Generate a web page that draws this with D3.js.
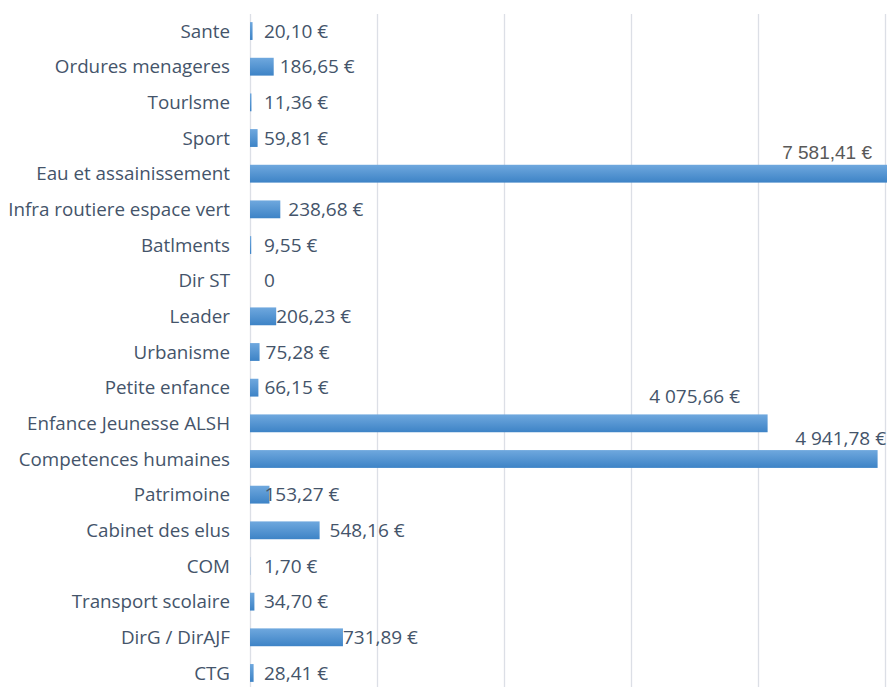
<!DOCTYPE html>
<html>
<head>
<meta charset="utf-8">
<script src="https://cdn.jsdelivr.net/npm/d3@7"></script>
<style>
  body { margin: 0; background: #fff; }
  text { font-family: "Open Sans", sans-serif; }
</style>
</head>
<body>
<div id="chart"></div>
<script>
// categories top -> bottom, as in the picture
var categories = ["Sante", "Ordures menageres", "Tourlsme", "Sport", "Eau et assainissement",
  "Infra routiere espace vert", "Batlments", "Dir ST", "Leader", "Urbanisme", "Petite enfance",
  "Enfance Jeunesse ALSH", "Competences humaines", "Patrimoine", "Cabinet des elus", "COM",
  "Transport scolaire", "DirG / DirAJF", "CTG"];
var values = [20.10, 186.65, 11.36, 59.81, 7581.41, 238.68, 9.55, 0, 206.23, 75.28, 66.15,
  4075.66, 4941.78, 153.27, 548.16, 1.70, 34.70, 731.89, 28.41];
var gridTicks = [0, 1000, 2000, 3000, 4000, 5000];

var w = 887, h = 687;
var svg = d3.select("#chart").append("svg")
  .attr("width", w)
  .attr("height", h);

var defs = svg.append("defs");
var grad = defs.append("linearGradient")
  .attr("id", "barfill")
  .attr("x1", 0).attr("y1", 0).attr("x2", 0).attr("y2", 1);
grad.append("stop").attr("offset", "0%").attr("stop-color", "#6fa8de");
grad.append("stop").attr("offset", "100%").attr("stop-color", "#3d83c6");

var x = d3.scaleLinear().domain([0, 5000]).range([250, 885]);
var y = d3.scaleBand()
  .domain(categories)
  .range([13.2, 690.8])
  .paddingInner(0.5)
  .paddingOuter(0.25);

// vertical gridlines
svg.append("g")
  .attr("transform", "translate(0," + h + ")")
  .call(d3.axisBottom(x).tickValues(gridTicks).tickSize(-(h - 14)).tickFormat(""))
  .call(function(g) {
    g.select(".domain").remove();
    g.selectAll(".tick line").attr("stroke", "#dcdfe6").attr("stroke-width", 1.3);
  });

// category labels
svg.append("g")
  .selectAll("text")
  .data(categories)
  .enter()
  .append("text")
  .attr("x", 230)
  .attr("y", function(d) { return y(d) + y.bandwidth() / 2; })
  .attr("dy", "0.35em")
  .attr("text-anchor", "end")
  .attr("font-size", 18.8)
  .attr("fill", "#44546a")
  .text(function(d) { return d; });

var rows = categories.map(function(c, i) { return { cat: c, v: values[i] }; });

// bars
svg.append("g")
  .selectAll("rect")
  .data(rows)
  .enter()
  .append("rect")
  .attr("x", x(0))
  .attr("y", function(d) { return y(d.cat); })
  .attr("width", function(d) { return x(d.v) - x(0); })
  .attr("height", y.bandwidth())
  .attr("fill", "url(#barfill)");

var fr = d3.formatLocale({ decimal: ",", thousands: "\u00a0", grouping: [3], currency: ["", "\u00a0€"] });
var money = fr.format("$,.2f");

// labels for short bars sit right of the bar, long ones sit above it (moved by hand in the original)
var nudge = { "Ordures menageres": 0, "Infra routiere espace vert": 2, "Leader": -6,
  "Patrimoine": -11, "Cabinet des elus": 4, "DirG / DirAJF": -6 };
var above = {
  "Eau et assainissement": { x: 872, dy: -21, font: "Liberation Sans, Arial, sans-serif", size: 19, fill: "#595959" },
  "Enfance Jeunesse ALSH": { x: 740, dy: -27 },
  "Competences humaines": { x: 886, dy: -21 }
};

svg.append("g")
  .selectAll("text")
  .data(rows)
  .enter()
  .append("text")
  .each(function(d) {
    var t = d3.select(this);
    var cy = y(d.cat) + y.bandwidth() / 2;
    var a = above[d.cat];
    t.attr("dy", "0.35em")
     .attr("font-size", a && a.size ? a.size : 19)
     .attr("fill", a && a.fill ? a.fill : "#44546a")
     .text(d.v === 0 ? "0" : money(d.v));
    if (a) {
      t.attr("x", a.x).attr("y", cy + a.dy).attr("text-anchor", "end");
      if (a.font) t.style("font-family", a.font);
    } else {
      var lx = Math.max(264, x(d.v) + 6 + (nudge[d.cat] || 0));
      t.attr("x", lx).attr("y", cy).attr("text-anchor", "start");
    }
  });
</script>
</body>
</html>
